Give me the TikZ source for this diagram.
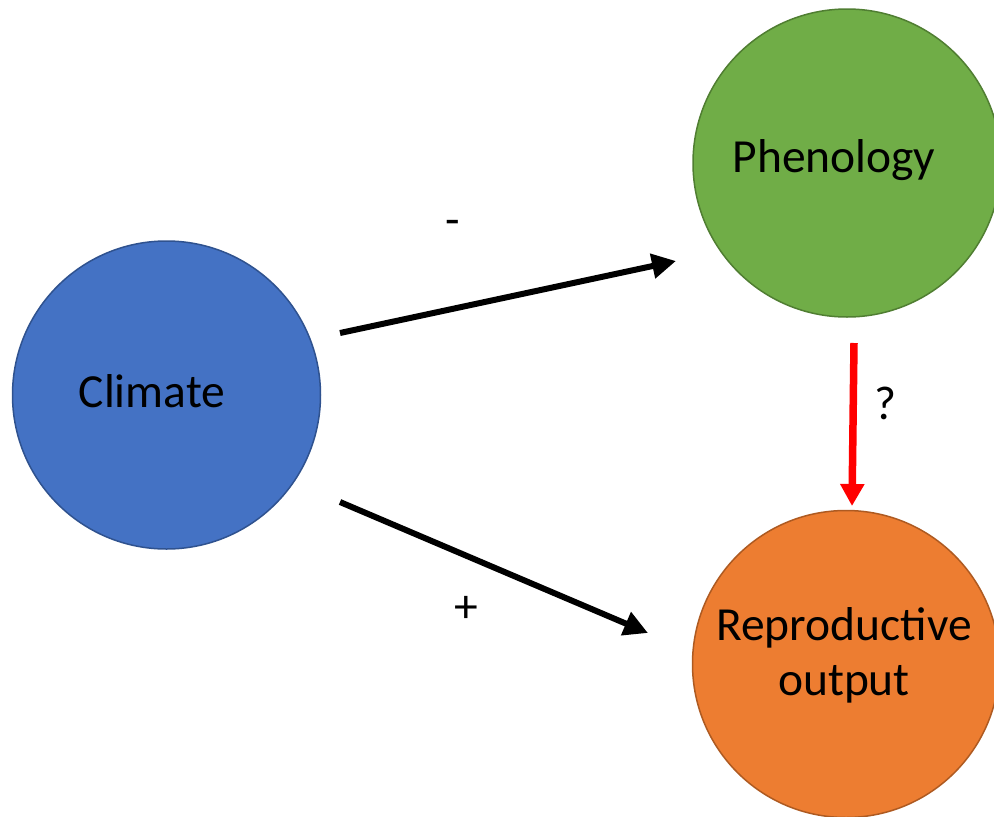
\documentclass[tikz,border=0pt]{standalone}
\usepackage{fontspec}
\setmainfont{Carlito}
\usetikzlibrary{arrows.meta}
\definecolor{cblue}{HTML}{4472C4}
\definecolor{cblueb}{HTML}{2F528F}
\definecolor{cgreen}{HTML}{70AD47}
\definecolor{cgreenb}{HTML}{507E32}
\definecolor{corange}{HTML}{ED7D31}
\definecolor{corangeb}{HTML}{AE5A21}
\definecolor{cred}{HTML}{FF0000}
\tikzset{
  bubble/.style={circle, line width=1.5pt, minimum size=#1, inner sep=0pt},
  lbl/.style={font=\fontsize{47.5}{55}\selectfont, anchor=base, align=center, inner sep=0pt},
  blackarrow/.style={line width=6pt, -{Triangle[length=24pt,width=24pt]}},
  redarrow/.style={cred, line width=7.5pt, -{Triangle[length=22pt,width=23pt]}},
}
\begin{document}
\begin{tikzpicture}[x=1pt,y=-1pt]
\useasboundingbox (0,0) rectangle (994,817);
\node[bubble=308pt, fill=cblue, draw=cblueb] (climate) at (166.5,395) {};
\node[bubble=308pt, fill=cgreen, draw=cgreenb] (phen) at (847,163) {};
\node[bubble=307pt, fill=corange, draw=corangeb] (repro) at (846,664) {};
\node[lbl] (tclim) at (152,407) {Climate};
\node[lbl] (tphen) at (834,172) {Phenology};
\node[lbl] (trep1) at (844,640) {Reproductive};
\node[lbl] (trep2) at (844,695) {output};
\coordinate (a1s) at (340,333);
\coordinate (a1e) at (676,261);
\coordinate (a2s) at (340,502);
\coordinate (a2e) at (648,633);
\coordinate (a3s) at (854,343);
\coordinate (a3e) at (852,506);
\draw[blackarrow] (a1s) -- (a1e);
\draw[blackarrow] (a2s) -- (a2e);
\draw[redarrow] (a3s) -- (a3e);
\node[lbl] (minus) at (453,235) {-};
\node[lbl] (plus) at (466,622) {+};
\node[lbl] (q) at (885,419) {?};
\end{tikzpicture}
\end{document}
